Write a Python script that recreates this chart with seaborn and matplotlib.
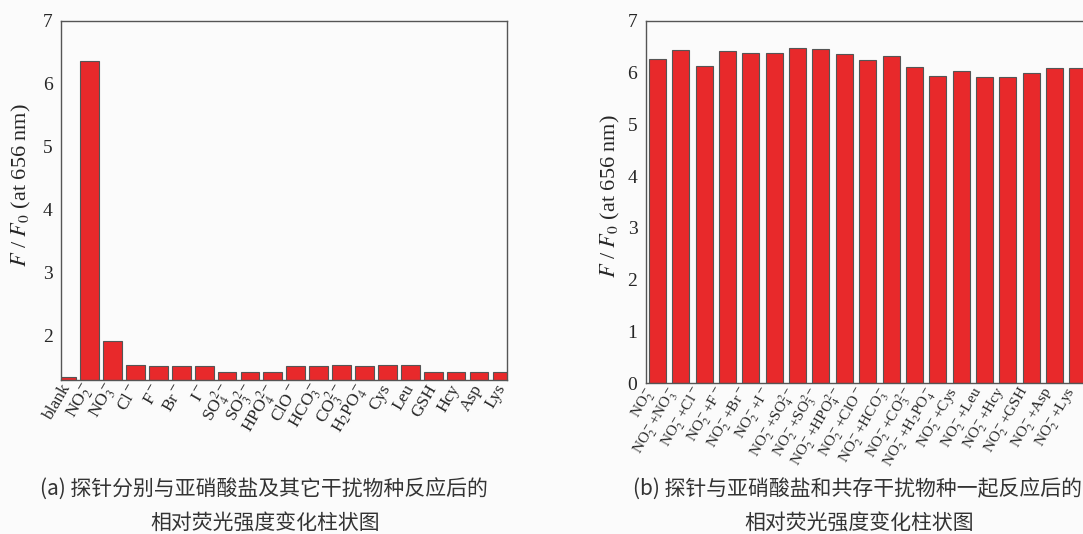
import matplotlib
matplotlib.use('Agg')
import matplotlib.pyplot as plt
import matplotlib.transforms as mtransforms
import seaborn as sns

# (a) probe + each species alone
labels_a = ['blank', r'NO$_2^-$', r'NO$_3^-$', r'Cl$^-$', r'F$^-$', r'Br$^-$', r'I$^-$',
            r'SO$_4^{2-}$', r'SO$_3^{2-}$', r'HPO$_4^{2-}$', r'ClO$^-$', r'HCO$_3^-$',
            r'CO$_3^{2-}$', r'H$_2$PO$_4^-$', 'Cys', 'Leu', 'GSH', 'Hcy', 'Asp', 'Lys']
values_a = [1.34, 6.36, 1.92, 1.54, 1.52, 1.52, 1.52, 1.43, 1.43, 1.43,
            1.52, 1.52, 1.54, 1.52, 1.54, 1.54, 1.43, 1.43, 1.43, 1.43]

# (b) probe + nitrite + coexisting species
labels_b = [r'NO$_2^-$', r'NO$_2^-$+NO$_3^-$', r'NO$_2^-$+Cl$^-$', r'NO$_2^-$+F$^-$',
            r'NO$_2^-$+Br$^-$', r'NO$_2^-$+I$^-$', r'NO$_2^-$+SO$_4^{2-}$',
            r'NO$_2^-$+SO$_3^{2-}$', r'NO$_2^-$+HPO$_4^{2-}$', r'NO$_2^-$+ClO$^-$',
            r'NO$_2^-$+HCO$_3^-$', r'NO$_2^-$+CO$_3^{2-}$', r'NO$_2^-$+H$_2$PO$_4^-$',
            r'NO$_2^-$+Cys', r'NO$_2^-$+Leu', r'NO$_2^-$+Hcy', r'NO$_2^-$+GSH',
            r'NO$_2^-$+Asp', r'NO$_2^-$+Lys']
values_b = [6.27, 6.43, 6.12, 6.41, 6.37, 6.37, 6.47, 6.45, 6.35, 6.25,
            6.32, 6.10, 5.94, 6.03, 5.91, 5.91, 6.00, 6.08, 6.08]

caption_a = ['(a) 探针分别与亚硝酸盐及其它干扰物种反应后的', '相对荧光强度变化柱状图']
caption_b = ['(b) 探针与亚硝酸盐和共存干扰物种一起反应后的', '相对荧光强度变化柱状图']

sns.set_style('white')
plt.rcParams['font.family'] = ['Liberation Serif', 'DejaVu Serif']
plt.rcParams['mathtext.fontset'] = 'stix'

bar_color = '#e8292b'
edge = '#555555'
bg = '#fbfbfb'

fig = plt.figure(figsize=(10.83, 5.34), dpi=100)
fig.patch.set_facecolor(bg)

ax1 = fig.add_axes([0.0563, 0.2884, 0.4118, 0.6729])
ax2 = fig.add_axes([0.5962, 0.2822, 0.41, 0.679])

sns.barplot(x=labels_a, y=values_a, ax=ax1, color=bar_color, saturation=1,
            edgecolor=edge, linewidth=0.8, width=0.82)
sns.barplot(x=labels_b, y=values_b, ax=ax2, color=bar_color, saturation=1,
            edgecolor=edge, linewidth=0.8, width=0.73)

ax1.set_ylim(1.3, 7)
ax1.set_yticks([2, 3, 4, 5, 6, 7])
ax1.set_xlim(-0.25, 19.22)
ax2.set_ylim(0, 7)
ax2.set_yticks(range(0, 8))
ax2.set_xlim(-0.5, 18.5)

for ax, xl, yl, xs, dx in [(ax1, -0.063, 0.543, 12.5, 0), (ax2, -0.053, 0.516, 11, -5)]:
    ax.set_facecolor(bg)
    for s in ax.spines.values():
        s.set_color(edge)
        s.set_linewidth(1.0)
    ax.tick_params(axis='y', direction='in', length=4, color=edge, labelsize=14, pad=6)
    ax.tick_params(axis='x', length=0, labelsize=xs, pad=4)
    shift = mtransforms.ScaledTranslation(dx / 100, 0, fig.dpi_scale_trans)
    for t in ax.get_xticklabels():
        t.set_rotation(60)
        t.set_ha('right')
        t.set_va('center')
        t.set_rotation_mode('anchor')
        t.set_transform(t.get_transform() + shift)
    ax.set_ylabel(r'$F$ / $F_0$ (at 656 nm)', fontsize=16)
    ax.yaxis.set_label_coords(xl, yl)

cjk = ['Noto Sans CJK SC', 'DejaVu Sans']
y1 = 1 - 490 / 534
y2 = 1 - 523 / 534
fig.text(40 / 1083, y1, caption_a[0], family=cjk, fontsize=15,
         ha='left', va='center', color='#333333')
fig.text(265 / 1083, y2, caption_a[1], family=cjk, fontsize=15,
         ha='center', va='center', color='#333333')
fig.text(633 / 1083, y1, caption_b[0], family=cjk, fontsize=15,
         ha='left', va='center', color='#333333')
fig.text(859 / 1083, y2, caption_b[1], family=cjk, fontsize=15,
         ha='center', va='center', color='#333333')

fig.savefig('out.png', dpi=100, facecolor=bg)
